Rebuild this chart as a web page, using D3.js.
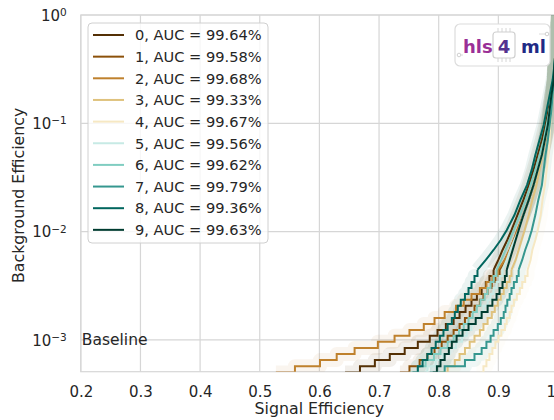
<!DOCTYPE html>
<html>
<head>
<meta charset="utf-8">
<script src="https://cdn.jsdelivr.net/npm/d3@7"></script>
<style>
  body { margin: 0; background: #fff; }
  text { font-family: "DejaVu Sans", sans-serif; fill: #262626; }
</style>
</head>
<body>
<div id="roc"></div>
<script>
const width = 554;
const height = 420;
const margin = { top: 15, left: 80.8 };
const innerWidth = 477.2;
const innerHeight = 356.7;

// background efficiency levels shared by all curves
const bkgLevels = [5.0e-4, 5.7e-4, 6.5e-4, 7.4e-4, 8.4e-4, 9.6e-4, 1.09e-3, 1.23e-3, 1.40e-3, 1.59e-3,
  1.81e-3, 2.06e-3, 2.34e-3, 2.65e-3, 3.01e-3, 3.43e-3, 3.89e-3, 4.42e-3, 5.47e-3, 6.76e-3,
  8.36e-3, 1.03e-2, 1.42e-2, 1.96e-2, 2.69e-2, 3.71e-2, 5.09e-2, 7.01e-2, 9.64e-2, 0.133,
  0.183, 0.251, 0.345, 0.475, 0.654, 1.0];

// signal efficiency of each model at those levels
const sig0 = [0.643, 0.668, 0.693, 0.718, 0.743, 0.765, 0.785, 0.798, 0.812, 0.825, 0.835, 0.845, 0.855, 0.864, 0.872, 0.879, 0.885, 0.892, 0.900, 0.907, 0.915, 0.922, 0.932, 0.942, 0.951, 0.959, 0.966, 0.973, 0.979, 0.984, 0.989, 0.993, 0.994, 0.996, 0.998, 1.0];
const sig1 = [0.735, 0.751, 0.768, 0.781, 0.793, 0.805, 0.815, 0.825, 0.835, 0.844, 0.852, 0.860, 0.869, 0.875, 0.882, 0.889, 0.895, 0.902, 0.911, 0.919, 0.926, 0.932, 0.942, 0.951, 0.959, 0.966, 0.973, 0.979, 0.984, 0.987, 0.991, 0.993, 0.994, 0.996, 0.998, 1.0];
const sig2 = [0.527, 0.559, 0.601, 0.629, 0.659, 0.698, 0.726, 0.751, 0.775, 0.793, 0.810, 0.829, 0.842, 0.855, 0.869, 0.880, 0.890, 0.899, 0.911, 0.919, 0.926, 0.932, 0.942, 0.951, 0.959, 0.966, 0.973, 0.978, 0.983, 0.986, 0.989, 0.993, 0.994, 0.996, 0.998, 1.0];
const sig3 = [0.802, 0.815, 0.827, 0.835, 0.844, 0.852, 0.860, 0.869, 0.875, 0.882, 0.889, 0.894, 0.899, 0.904, 0.909, 0.914, 0.919, 0.922, 0.929, 0.934, 0.939, 0.944, 0.951, 0.957, 0.964, 0.969, 0.974, 0.979, 0.984, 0.987, 0.991, 0.993, 0.994, 0.996, 0.998, 1.0];
const sig4 = [0.869, 0.875, 0.880, 0.885, 0.890, 0.895, 0.900, 0.905, 0.911, 0.914, 0.919, 0.922, 0.926, 0.931, 0.936, 0.940, 0.945, 0.949, 0.954, 0.957, 0.962, 0.966, 0.971, 0.974, 0.978, 0.981, 0.984, 0.986, 0.987, 0.989, 0.991, 0.993, 0.994, 0.996, 0.998, 1.0];
const sig5 = [0.768, 0.781, 0.795, 0.807, 0.818, 0.829, 0.839, 0.847, 0.855, 0.862, 0.869, 0.875, 0.882, 0.887, 0.892, 0.897, 0.902, 0.907, 0.914, 0.920, 0.927, 0.934, 0.942, 0.951, 0.959, 0.966, 0.973, 0.978, 0.983, 0.986, 0.989, 0.993, 0.994, 0.996, 0.998, 1.0];
const sig6 = [0.751, 0.765, 0.778, 0.792, 0.803, 0.815, 0.825, 0.834, 0.842, 0.850, 0.857, 0.864, 0.870, 0.877, 0.882, 0.887, 0.892, 0.897, 0.905, 0.912, 0.919, 0.926, 0.936, 0.946, 0.954, 0.962, 0.969, 0.976, 0.981, 0.986, 0.989, 0.993, 0.994, 0.996, 0.998, 1.0];
const sig7 = [0.785, 0.810, 0.844, 0.860, 0.872, 0.880, 0.887, 0.892, 0.899, 0.904, 0.909, 0.912, 0.915, 0.919, 0.922, 0.926, 0.931, 0.934, 0.940, 0.945, 0.951, 0.956, 0.962, 0.967, 0.973, 0.976, 0.979, 0.983, 0.986, 0.989, 0.991, 0.993, 0.994, 0.996, 0.998, 1.0];
const sig8 = [0.756, 0.765, 0.773, 0.781, 0.788, 0.795, 0.802, 0.808, 0.815, 0.822, 0.827, 0.832, 0.837, 0.844, 0.850, 0.855, 0.860, 0.865, 0.879, 0.892, 0.904, 0.914, 0.927, 0.937, 0.948, 0.956, 0.962, 0.969, 0.976, 0.981, 0.986, 0.991, 0.994, 0.996, 0.998, 1.0];
const sig9 = [0.790, 0.797, 0.803, 0.810, 0.817, 0.822, 0.830, 0.840, 0.850, 0.862, 0.872, 0.882, 0.890, 0.897, 0.902, 0.907, 0.911, 0.914, 0.919, 0.924, 0.929, 0.934, 0.942, 0.951, 0.959, 0.966, 0.973, 0.978, 0.983, 0.986, 0.989, 0.993, 0.994, 0.996, 0.998, 1.0];

const curves = [sig0, sig1, sig2, sig3, sig4, sig5, sig6, sig7, sig8, sig9];
const aucs = [99.64, 99.58, 99.68, 99.33, 99.67, 99.56, 99.62, 99.79, 99.36, 99.63];
const colors = d3.schemeBrBG[10];

const xTicks = [0.2, 0.3, 0.4, 0.5, 0.6, 0.7, 0.8, 0.9, 1.0];
const yTicks = [1e-3, 1e-2, 1e-1, 1];
const yExponents = ["\u22123", "\u22122", "\u22121", "0"];

// below this level the curves are drawn as stairs
const stairLimit = 4.42e-3;

const xScale = d3.scaleLinear().domain([0.2, 1.0]).range([0, innerWidth]);
const yScale = d3.scaleLog().domain([5.08e-4, 1]).range([innerHeight, 0]);

const svg = d3.select("#roc")
  .append("svg")
  .attr("width", width)
  .attr("height", height);

svg.append("defs").append("clipPath")
  .attr("id", "plot-clip")
  .append("rect")
  .attr("width", innerWidth)
  .attr("height", innerHeight);

const innerChart = svg.append("g")
  .attr("transform", `translate(${margin.left}, ${margin.top})`);

// grid
innerChart.append("g")
  .selectAll("line")
  .data(xTicks)
  .join("line")
  .attr("x1", d => xScale(d))
  .attr("x2", d => xScale(d))
  .attr("y1", 0)
  .attr("y2", innerHeight)
  .attr("stroke", "#d6d6d6")
  .attr("stroke-width", 1.2);

innerChart.append("g")
  .selectAll("line")
  .data(yTicks)
  .join("line")
  .attr("x1", 0)
  .attr("x2", innerWidth)
  .attr("y1", d => yScale(d))
  .attr("y2", d => yScale(d))
  .attr("stroke", "#d6d6d6")
  .attr("stroke-width", 1.2);

innerChart.append("rect")
  .attr("width", innerWidth)
  .attr("height", innerHeight)
  .attr("fill", "none")
  .attr("stroke", "#d6d6d6")
  .attr("stroke-width", 1.2);

const stairLine = d3.line()
  .x(d => xScale(d[0]))
  .y(d => yScale(d[1]))
  .curve(d3.curveStepAfter);

const smoothLine = d3.line()
  .x(d => xScale(d[0]))
  .y(d => yScale(d[1]))
  .curve(d3.curveLinear);

function rocPath(sig) {
  const pts = sig.map((s, j) => [s, bkgLevels[j]]);
  const low = pts.filter(p => p[1] <= stairLimit);
  const high = pts.filter(p => p[1] >= stairLimit);
  return stairLine(low) + smoothLine(high);
}

const curvesGroup = innerChart.append("g")
  .attr("clip-path", "url(#plot-clip)");

// faint spread band behind each curve
curvesGroup.selectAll(".band")
  .data(curves)
  .join("path")
  .attr("class", "band")
  .attr("d", rocPath)
  .attr("fill", "none")
  .attr("stroke", (d, i) => colors[i])
  .attr("stroke-width", 14)
  .attr("stroke-opacity", 0.08)
  .attr("stroke-linejoin", "round");

curvesGroup.selectAll(".roc")
  .data(curves)
  .join("path")
  .attr("class", "roc")
  .attr("d", rocPath)
  .attr("fill", "none")
  .attr("stroke", (d, i) => colors[i])
  .attr("stroke-width", 2);

// axes
const xAxisGroup = innerChart.append("g")
  .attr("transform", `translate(0, ${innerHeight})`)
  .call(d3.axisBottom(xScale).tickValues(xTicks).tickSize(0).tickFormat(d3.format(".1f")));
xAxisGroup.select(".domain").remove();
xAxisGroup.selectAll("text")
  .attr("y", 25)
  .attr("dy", 0)
  .attr("font-size", 15)
  .attr("fill", "#262626");

const yAxisGroup = innerChart.append("g")
  .call(d3.axisLeft(yScale).tickValues(yTicks).tickSize(0).tickFormat(() => ""));
yAxisGroup.select(".domain").remove();
yAxisGroup.selectAll("text")
  .attr("x", -14)
  .attr("dy", "0.35em")
  .attr("font-size", 15)
  .attr("fill", "#262626")
  .each(function(d, i) {
    const t = d3.select(this);
    t.append("tspan").text("10");
    t.append("tspan")
      .attr("dy", "-0.45em")
      .attr("font-size", 10.5)
      .text(yExponents[i]);
  });

svg.append("text")
  .attr("x", margin.left + innerWidth / 2)
  .attr("y", 414)
  .attr("text-anchor", "middle")
  .attr("font-size", 15.8)
  .text("Signal Efficiency");

svg.append("text")
  .attr("transform", "rotate(-90)")
  .attr("x", -(margin.top + innerHeight / 2) - 2)
  .attr("y", 24)
  .attr("text-anchor", "middle")
  .attr("font-size", 15.8)
  .text("Background Efficiency");

innerChart.append("text")
  .attr("x", xScale(0.2) + 1)
  .attr("y", yScale(1e-3))
  .attr("dy", "0.35em")
  .attr("font-size", 15.5)
  .text("Baseline");

// legend
const legend = svg.append("g")
  .attr("transform", "translate(88, 23)");

legend.append("rect")
  .attr("width", 180)
  .attr("height", 220)
  .attr("rx", 4)
  .attr("fill", "#fff")
  .attr("fill-opacity", 0.8)
  .attr("stroke", "#d0d0d0");

const items = legend.selectAll(".item")
  .data(aucs)
  .join("g")
  .attr("class", "item")
  .attr("transform", (d, i) => `translate(0, ${12 + i * 21.65})`);

items.append("line")
  .attr("x1", 5)
  .attr("x2", 36)
  .attr("stroke", (d, i) => colors[i])
  .attr("stroke-width", 2);

items.append("text")
  .attr("x", 47)
  .attr("dy", "0.36em")
  .attr("font-size", 14.6)
  .text((d, i) => `${i}, AUC = ${d.toFixed(2)}%`);

// hls4ml logo
const logo = svg.append("g")
  .attr("transform", "translate(455, 24)");

logo.append("rect")
  .attr("width", 95)
  .attr("height", 42)
  .attr("rx", 5)
  .attr("fill", "#fff")
  .attr("stroke", "#dcdcdc")
  .attr("stroke-width", 1.2);

logo.append("path")
  .attr("d", "M4,31 H8 M84,10 H92")
  .attr("stroke", "#dcdcdc")
  .attr("stroke-width", 1);
logo.append("circle").attr("cx", 4).attr("cy", 31).attr("r", 1.8)
  .attr("fill", "#fff").attr("stroke", "#d0d0d0");
logo.append("circle").attr("cx", 92).attr("cy", 10).attr("r", 1.8)
  .attr("fill", "#fff").attr("stroke", "#d0d0d0");

logo.append("path")
  .attr("d", "M43,4 V8 M47,4 V8 M51,4 V8 M55,4 V8 M43,34 V38 M47,34 V38 M51,34 V38 M55,34 V38")
  .attr("stroke", "#d6d6d6")
  .attr("stroke-width", 1);

logo.append("rect")
  .attr("x", 38)
  .attr("y", 8)
  .attr("width", 22)
  .attr("height", 26)
  .attr("rx", 3)
  .attr("fill", "#fff")
  .attr("stroke", "#cfcfcf")
  .attr("stroke-width", 1.2);

logo.append("text")
  .attr("x", 8)
  .attr("y", 29)
  .attr("font-family", "Lato")
  .attr("font-weight", 700)
  .attr("font-size", 18)
  .style("fill", "#9a2f96")
  .text("hls");

logo.append("text")
  .attr("x", 49)
  .attr("y", 29)
  .attr("text-anchor", "middle")
  .attr("font-family", "Lato")
  .attr("font-weight", 700)
  .attr("font-size", 18)
  .style("fill", "#55318f")
  .text("4");

logo.append("text")
  .attr("x", 66)
  .attr("y", 29)
  .attr("font-family", "Lato")
  .attr("font-weight", 700)
  .attr("font-size", 18)
  .style("fill", "#1f2a85")
  .text("ml");
</script>
</body>
</html>
